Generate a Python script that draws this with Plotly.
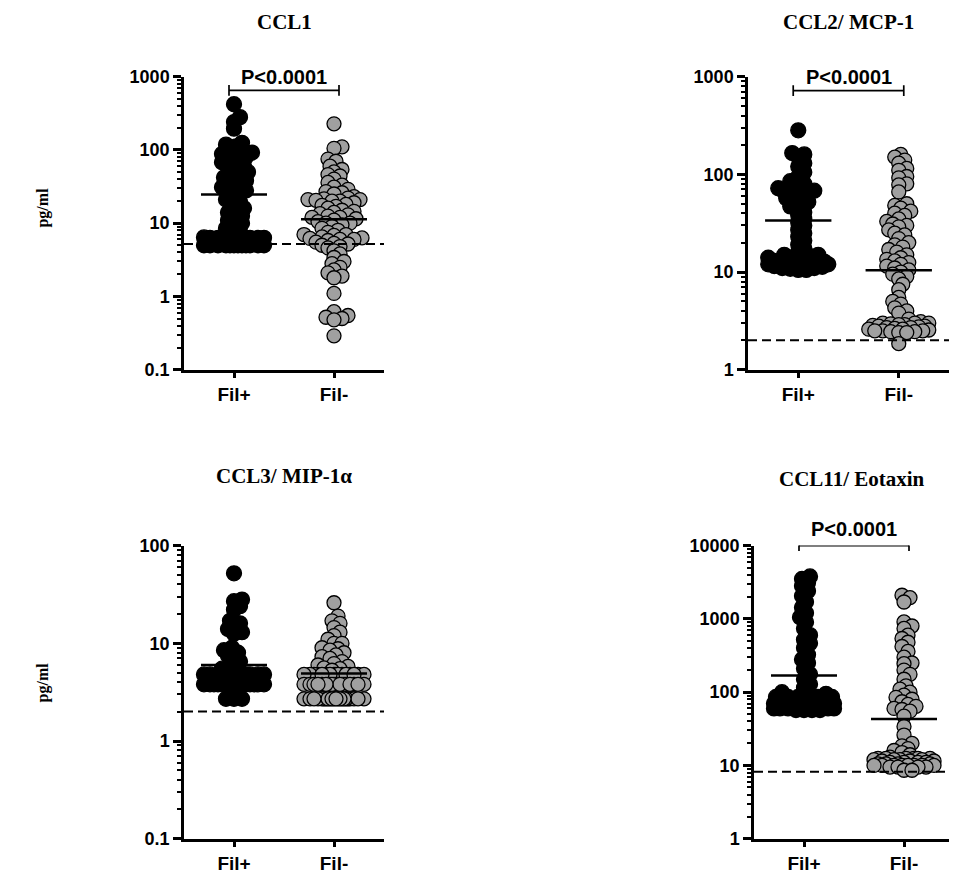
import numpy as np
import plotly.graph_objects as go

groups = ["Fil+", "Fil-"]

ccl1_pos = [420, 280, 240, 195, 125, 118, 112, 100, 95, 92, 88, 85, 80, 75, 72, 68, 66, 60,
            58, 55, 50, 48, 45, 42, 40, 38, 36, 33, 31, 30, 28, 27, 25, 23, 21, 19.5, 18, 16,
            15, 14, 12.5, 12, 11, 10, 9.5, 8.5,
            7.6, 7.4, 6.5, 6.4, 6.3, 6.3, 6.3, 6.3, 6.3, 6.3, 6.2, 6.2,
            5.2, 5.2, 5.2, 5.2, 5.2, 5.2, 5.0, 5.0, 5.0, 5.0, 5.0, 5.0, 5.0, 5.0, 5.0, 5.0, 5.0, 5.0]
ccl1_neg = [227, 110, 105, 75, 70, 60, 54, 50, 46, 44, 40, 36, 33, 31, 29, 27, 26, 25, 23,
            22, 21.5, 21, 21, 20.5, 20, 20, 19, 18, 17.5, 17, 16, 15, 14.5, 14, 13.5, 13,
            12.5, 12, 12, 11.5, 11, 10.5, 10, 10, 9.5, 9, 8.5, 8, 7.5, 7, 7, 6.8, 6.5, 6.3,
            6.2, 6.0, 6.0, 5.8, 5.5, 5.3, 5.2, 5.0, 4.8, 4.6, 4.2, 3.8, 3.4, 3.0, 2.8, 2.5,
            2.3, 2.1, 1.9, 1.8, 1.1, 0.62, 0.55, 0.52, 0.5, 0.48, 0.29]

ccl2_pos = [282, 165, 160, 150, 130, 120, 105, 95, 85, 80, 75, 72, 70, 68, 66, 64, 62, 60,
            57, 55, 52, 50, 47, 44, 41, 38, 35, 32, 30, 27, 25, 23, 21, 19, 17.5, 16, 15, 15,
            14.5, 14, 14, 13.5, 13, 13, 12.8, 12.6, 12.5, 12.4, 12.3, 12.2, 12.0, 12.0, 11.8,
            11.5, 11.3, 11.0, 11.0, 10.8, 10.5, 10.5]
ccl2_neg = [160, 150, 140, 130, 115, 110, 95, 92, 80, 78, 66, 50, 48, 45, 42, 40, 38, 35,
            33, 31, 30, 29, 27, 25, 24, 22, 20, 19, 18, 17, 16, 15, 14, 13.5, 13,
            12.5, 12, 11.5, 11, 10.5, 10, 9.5, 9, 8.5, 7.5, 6.6, 5.5, 5.0, 4.7, 4.3, 4.0, 3.8,
            3.3, 3.1, 3.0, 3.0, 3.0, 2.95, 2.9, 2.9, 2.85, 2.8, 2.8, 2.75, 2.7, 2.7, 2.65, 2.6,
            2.6, 2.55, 2.5, 2.5, 2.5, 2.45, 2.45, 2.4, 2.4, 1.85]

ccl3_pos = [52, 28, 27, 24, 22, 17, 16, 15, 14, 13, 12.5, 9, 8.5, 8, 7.5, 7, 6.5, 6, 5.5,
            4.8, 4.8, 4.8, 4.8, 4.8, 4.8, 4.8, 4.8, 4.8, 4.8, 4.8, 4.8,
            3.8, 3.8, 3.8, 3.8, 3.8, 3.8, 3.8, 3.8, 3.8, 3.8, 3.8, 3.8, 3.8, 3.8, 3.8, 3.8,
            3.8, 3.8, 3.8, 3.8, 2.7, 2.7, 2.7]
ccl3_neg = [26, 19, 17, 16, 14.5, 13, 12, 11, 10, 10, 9, 8.8, 8.5, 8, 7.6, 7.3, 7, 6.5, 6.2,
            6, 5.8, 5.6, 5.5, 5.3,
            4.8, 4.8, 4.8, 4.8, 4.8, 4.8, 4.8, 4.8, 4.8, 4.8, 4.8, 4.8, 4.8, 4.8, 4.8, 4.8,
            3.8, 3.8, 3.8, 3.8, 3.8, 3.8, 3.8, 3.8, 3.8, 3.8, 3.8, 3.8, 3.8, 3.8, 3.8, 3.8,
            3.8, 3.8, 3.8, 3.8,
            2.7, 2.7, 2.7, 2.7, 2.7, 2.7, 2.7, 2.7, 2.7, 2.7, 2.7, 2.7, 2.7, 2.7, 2.7, 2.7,
            2.7, 2.7, 2.7, 2.7, 2.7, 2.7]

ccl11_pos = [3800, 3500, 3100, 2800, 2400, 2050, 1700, 1430, 1200, 1050, 900, 740, 600, 520,
             465, 400, 325, 280, 250, 210, 175, 150, 128, 115, 100, 95, 90,
             86, 86, 86, 86, 86, 86, 80, 80, 80, 80, 80, 75, 70, 70, 70, 70, 70, 70, 70, 70,
             65, 65, 65, 65, 65, 65, 60, 60, 60, 60, 60, 60, 57, 57, 57, 57]
ccl11_neg = [2100, 1950, 1700, 910, 800, 740, 600, 540, 480, 420, 360, 300, 250, 245, 200,
             175, 150, 122, 110, 100, 91, 85, 80, 74, 68, 64, 60, 58, 55, 47, 34, 26, 20, 18.5,
             17, 16, 15, 14, 13, 12.5, 12.5, 12.5, 12.5, 12.5, 12.5, 12, 12, 12, 12,
             11.5, 11.5, 11.5, 11, 11, 11, 11, 10.5, 10.5, 10.5, 10.5,
             10, 10, 10, 10, 10, 10, 10, 10, 9.5, 9.5, 9.5, 9.5, 8.6, 8.6]

titles = ["CCL1", "CCL2/ MCP-1", "CCL3/ MIP-1α", "CCL11/ Eotaxin"]
data = [(ccl1_pos, ccl1_neg), (ccl2_pos, ccl2_neg), (ccl3_pos, ccl3_neg), (ccl11_pos, ccl11_neg)]
means = [(24.6, 11.3), (33.6, 10.4), (6.0, 4.9), (169, 43)]
detection_limit = [5.2, 2.0, 2.0, 8.2]
bracket_at = [650, 720, None, 10000]
p_text = "P<0.0001"
log_ranges = [(-1, 3), (0, 3), (-1, 2), (0, 4)]

# page pixels of the picture; the html body adds an 8px margin
OFF = 8
W, H = 957 - OFF, 879 - OFF
x_doms = [(184, 384), (748, 949), (184, 384), (754, 954)]
y_doms = [(68, 368), (68, 368), (548, 848), (548, 848)]
title_px = [(284, 12), (848, 12), (284, 477), (852, 480)]
ylabel_px = [(43, 202), (43, 688)]
SIZES = [15, 14]
COLORS = ["black", "#a0a0a0"]


def fx(px):
    return (px - OFF) / W


def fy(py):
    return 1 - (py - OFF) / H


def swarm(values, px_dec, px_unit):
    # simple beeswarm: push colliding points sideways
    ys = np.log10(np.array(values, dtype=float)) * px_dec
    order = np.argsort(ys)
    step, min_d, max_off = 2.0, 14 * 0.47, 30
    cands = [0.0]
    k = 1
    while k * step <= max_off:
        cands += [k * step, -k * step]
        k += 1
    placed = []
    xs = np.zeros(len(values))
    for i in order:
        y = ys[i]
        best, best_c, best_score = None, 0.0, -1
        for c in cands:
            d = min(np.hypot(c - px, y - py) for px, py in placed) if placed else 1e9
            if d >= min_d:
                best = c
                break
            if d > best_score:
                best_score, best_c = d, c
        if best is None:
            best = best_c
        xs[i] = best / px_unit
        placed.append((best, y))
    return xs


fig = go.Figure()
ytick_font = dict(family="Arial", size=18, color="black", weight="bold")
xtick_font = dict(family="Arial", size=19, color="black", weight="bold")

for p in range(4):
    n = "" if p == 0 else str(p + 1)
    xa, ya = "x" + n, "y" + n
    lo, hi = log_ranges[p]
    x0, x1 = x_doms[p]
    y0, y1 = y_doms[p]
    px_dec = (y1 - y0) / (hi - lo)
    px_unit = (x1 - x0) / 2.0
    for g, vals in enumerate(data[p]):
        xs = g + swarm(vals, px_dec, px_unit)
        fig.add_trace(go.Scatter(x=xs, y=vals, mode="markers", xaxis=xa, yaxis=ya,
                                 marker=dict(size=SIZES[g], color=COLORS[g],
                                             line=dict(color="black", width=1.3)),
                                 showlegend=False, hoverinfo="y"))
    # detection limit
    fig.add_trace(go.Scatter(x=[-0.5, 1.5], y=[detection_limit[p]] * 2, mode="lines",
                             xaxis=xa, yaxis=ya, showlegend=False,
                             line=dict(color="black", width=2, dash="9px,5px")))
    # mean lines
    for g in range(2):
        fig.add_trace(go.Scatter(x=[g - 0.33, g + 0.33], y=[means[p][g]] * 2, mode="lines",
                                 xaxis=xa, yaxis=ya, showlegend=False,
                                 line=dict(color="black", width=2.5)))
    # significance bracket
    if bracket_at[p] is not None:
        yb = bracket_at[p]
        f = 10 ** (5.5 / px_dec)
        fig.add_trace(go.Scatter(x=[-0.05, 1.05, None, -0.05, -0.05, None, 1.05, 1.05],
                                 y=[yb, yb, None, yb * f, yb / f, None, yb * f, yb / f],
                                 mode="lines", xaxis=xa, yaxis=ya, showlegend=False,
                                 cliponaxis=False, line=dict(color="black", width=1.7)))
        ydom_txt = 1.0 if p < 2 else 1.057
        fig.add_annotation(text=p_text, x=0.5, xref=xa, y=ydom_txt, yref=ya + " domain",
                           showarrow=False, xanchor="center", yanchor="middle",
                           font=dict(family="Arial", size=20, color="black", weight="bold"))

    minor_vals = [m * 10 ** e for e in range(lo, hi) for m in range(2, 10)]
    major_vals = [10 ** e for e in range(lo, hi + 1)]
    major_text = [("%g" % v) for v in major_vals]
    fig.layout["xaxis" + n] = dict(domain=[fx(x0), fx(x1)], range=[-0.5, 1.5], anchor=ya,
                                   tickvals=[0, 1], ticktext=groups, ticks="outside",
                                   ticklen=6, tickwidth=2.5, tickcolor="black",
                                   showline=True, linewidth=2.5, linecolor="black",
                                   showgrid=False, zeroline=False, tickfont=xtick_font)
    fig.layout["yaxis" + n] = dict(domain=[fy(y1), fy(y0)], type="log",
                                   range=[lo, hi], anchor=xa, tickvals=major_vals,
                                   ticktext=major_text, ticks="outside", ticklen=8,
                                   tickwidth=2.5, tickcolor="black", showline=True,
                                   linewidth=2.5, linecolor="black", showgrid=False,
                                   zeroline=False, tickfont=ytick_font,
                                   minor=dict(tickvals=minor_vals, ticks="outside",
                                              ticklen=4, tickwidth=2, tickcolor="black",
                                              showgrid=False))
    tx, ty = title_px[p]
    fig.add_annotation(text="<b>%s</b>" % titles[p], xref="paper", yref="paper",
                       x=fx(tx), y=fy(ty), showarrow=False, xanchor="center",
                       yanchor="middle",
                       font=dict(family="Liberation Serif", size=21, color="black"))

for lx, ly in ylabel_px:
    fig.add_annotation(text="<b>pg/ml</b>", xref="paper", yref="paper", x=fx(lx),
                       y=fy(ly), showarrow=False, textangle=-90, xanchor="center",
                       yanchor="middle",
                       font=dict(family="Liberation Serif", size=16, color="black"))

fig.update_layout(width=W, height=H, margin=dict(l=0, r=0, t=0, b=0),
                  plot_bgcolor="white", paper_bgcolor="white")
fig.write_html("out.html")
